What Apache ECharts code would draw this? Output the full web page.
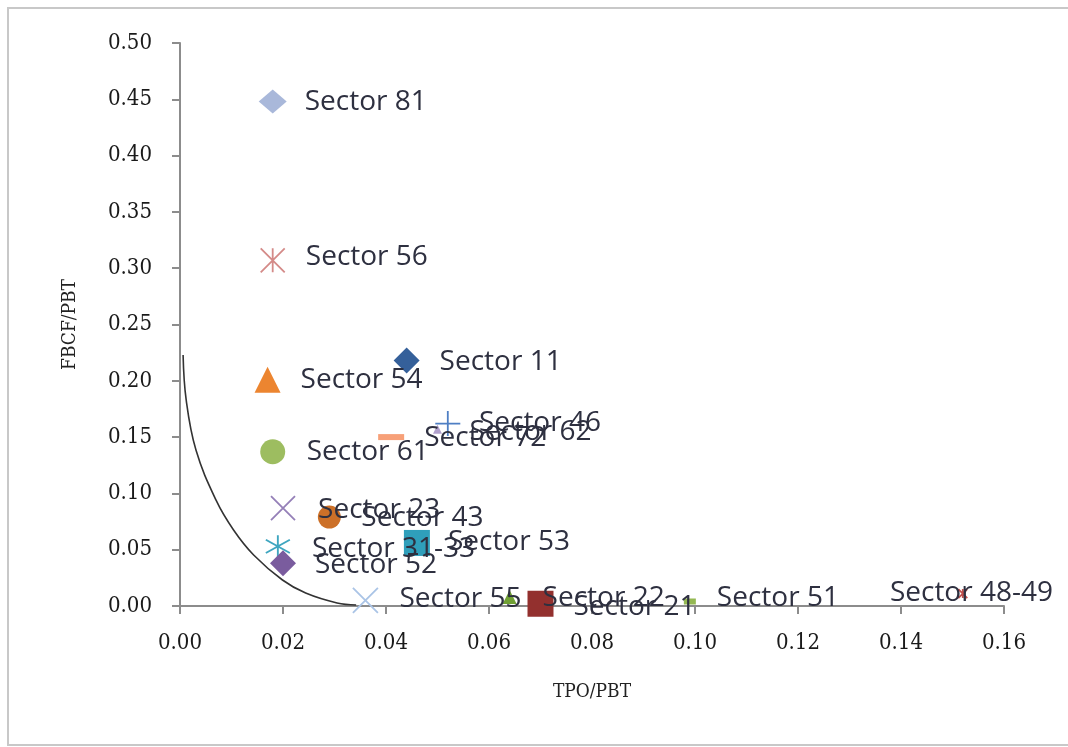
<!DOCTYPE html>
<html>
<head>
<meta charset="utf-8">
<script src="https://cdn.jsdelivr.net/npm/echarts@6/dist/echarts.min.js"></script>
<style>
  html, body { margin: 0; padding: 0; background: #fff; }
  #chart-container { width: 1068px; height: 747px; }
</style>
</head>
<body>
<div id="chart-container"></div>
<script>
// sector points (TPO/PBT, FBCF/PBT)
var sectors = ['Sector 81', 'Sector 56', 'Sector 11', 'Sector 54', 'Sector 46', 'Sector 72',
  'Sector 62', 'Sector 61', 'Sector 23', 'Sector 43', 'Sector 31-33', 'Sector 53',
  'Sector 52', 'Sector 55', 'Sector 22', 'Sector 21', 'Sector 51', 'Sector 48-49'];
var tpo = [0.018, 0.018, 0.044, 0.017, 0.052, 0.041, 0.050, 0.018, 0.020, 0.029, 0.019, 0.046,
  0.020, 0.036, 0.064, 0.070, 0.099, 0.152];
var fbcf = [0.448, 0.307, 0.218, 0.201, 0.162, 0.150, 0.157, 0.137, 0.087, 0.079, 0.053, 0.056,
  0.038, 0.005, 0.008, 0.002, 0.004, 0.011];

// hand drawn frontier curve
var curveX = [0.0006, 0.0012, 0.0031, 0.0070, 0.0104, 0.0143, 0.0199, 0.0244, 0.0305, 0.0342];
var curveY = [0.223, 0.183, 0.1385, 0.094, 0.0675, 0.0453, 0.0231, 0.0115, 0.0027, 0.0009];

var xTicks = [0, 0.02, 0.04, 0.06, 0.08, 0.10, 0.12, 0.14, 0.16];
var yTicks = [0, 0.05, 0.10, 0.15, 0.20, 0.25, 0.30, 0.35, 0.40, 0.45, 0.50];

// marker styles
var X = 'path://M0,0L10,10M10,0L0,10';
var PLUS = 'path://M5,0L5,10M0,5L10,5';
var STAR = 'path://M5,0L5,10M0,0L10,10M10,0L0,10';
var STAR2 = 'path://M5,0L5,10M0,2L10,8M10,2L0,8';
var markers = [
  { s: 'diamond', size: [28, 24], c: '#a9b8da' },
  { s: STAR, size: 24, c: '#d48a88', line: true },
  { s: 'diamond', size: 26, c: '#35609a' },
  { s: 'triangle', size: 26, c: '#ec8530' },
  { s: PLUS, size: 25, c: '#4f7fc4', line: true },
  { s: 'rect', size: [26, 6], c: '#f7a078' },
  { s: 'triangle', size: 9, c: '#b0a0cc' },
  { s: 'circle', size: 25, c: '#9dbd60' },
  { s: X, size: 24, c: '#9580b8', line: true },
  { s: 'circle', size: 23, c: '#cc7028' },
  { s: STAR2, size: [24, 22], c: '#3fa6c0', line: true },
  { s: 'rect', size: 26, c: '#2f9fbb' },
  { s: 'diamond', size: 26, c: '#7a5c9e' },
  { s: X, size: 25, c: '#aac4e6', line: true },
  { s: 'triangle', size: 14, c: '#70a034' },
  { s: 'rect', size: 26, c: '#93302e' },
  { s: 'rect', size: [12, 6], c: '#94b852' },
  { s: STAR, size: 9, c: '#c0504d', line: true }
];
var labelDx = [32, 34, 33, 33, 32, 33, 32, 34, 36, 32, 35, 31, 32, 35, 33, 33, 27, -72];
var labelDy = [0, -2, 1, 0, 0, 1, 3, 0, 3, 1, 4, -1, 2, 0, 1, 3, -3, 0];

var serif = "'DejaVu Serif Condensed', 'DejaVu Serif', serif";

var pts = sectors.map(function (name, i) {
  var m = markers[i];
  var w = Array.isArray(m.size) ? m.size[0] : m.size;
  var h = Array.isArray(m.size) ? m.size[1] : m.size;
  return {
    name: name,
    value: [tpo[i], fbcf[i]],
    symbol: m.s,
    symbolSize: m.size,
    itemStyle: m.line
      ? { color: 'rgba(0,0,0,0)', borderColor: m.c, borderWidth: 1.8, opacity: 1 }
      : { color: m.c, opacity: 1 },
    label: { position: [w / 2 + labelDx[i], h / 2 + labelDy[i]] }
  };
});

var dom = document.getElementById('chart-container');
var myChart = echarts.init(dom, null, { renderer: 'canvas' });

var option = {
  animation: false,
  backgroundColor: '#fff',
  graphic: [{
    type: 'rect',
    shape: { x: 8, y: 8, width: 1100, height: 737 },
    style: { fill: 'none', stroke: '#c8c8c8', lineWidth: 2 },
    z: -1
  }],
  grid: { left: 180, right: 64, top: 43, bottom: 141 },
  xAxis: {
    type: 'value',
    min: 0,
    max: 0.16,
    interval: 0.02,
    name: 'TPO/PBT',
    nameLocation: 'middle',
    nameGap: 77,
    nameTextStyle: { fontFamily: serif, fontSize: 19, color: '#222' },
    axisLine: { lineStyle: { color: '#8c8c8c', width: 2 } },
    axisTick: { show: true, length: 8, lineStyle: { color: '#8c8c8c', width: 2 } },
    splitLine: { show: false },
    axisLabel: {
      margin: 26,
      fontFamily: serif,
      fontSize: 22,
      color: '#1a1a1a',
      formatter: function (v) { return v.toFixed(2); }
    }
  },
  yAxis: {
    type: 'value',
    min: 0,
    max: 0.5,
    interval: 0.05,
    name: 'FBCF/PBT',
    nameLocation: 'middle',
    nameGap: 100,
    nameTextStyle: { fontFamily: serif, fontSize: 19, color: '#222' },
    axisLine: { show: true, lineStyle: { color: '#8c8c8c', width: 2 } },
    axisTick: { show: true, length: 8, lineStyle: { color: '#8c8c8c', width: 2 } },
    splitLine: { show: false },
    axisLabel: {
      margin: 28,
      fontFamily: serif,
      fontSize: 22,
      color: '#1a1a1a',
      formatter: function (v) { return v.toFixed(2); }
    }
  },
  series: [
    {
      type: 'line',
      data: curveX.map(function (x, i) { return [x, curveY[i]]; }),
      smooth: 0.4,
      showSymbol: false,
      lineStyle: { color: '#333', width: 1.6 },
      z: 1
    },
    {
      type: 'scatter',
      data: pts,
      z: 3,
      label: {
        show: true,
        align: 'left',
        verticalAlign: 'middle',
        formatter: '{b}',
        fontFamily: "'Open Sans', sans-serif",
        fontSize: 28,
        color: '#2e3040'
      },
      labelLayout: { hideOverlap: false }
    }
  ]
};

myChart.setOption(option);
window.addEventListener('resize', myChart.resize);
</script>
</body>
</html>
